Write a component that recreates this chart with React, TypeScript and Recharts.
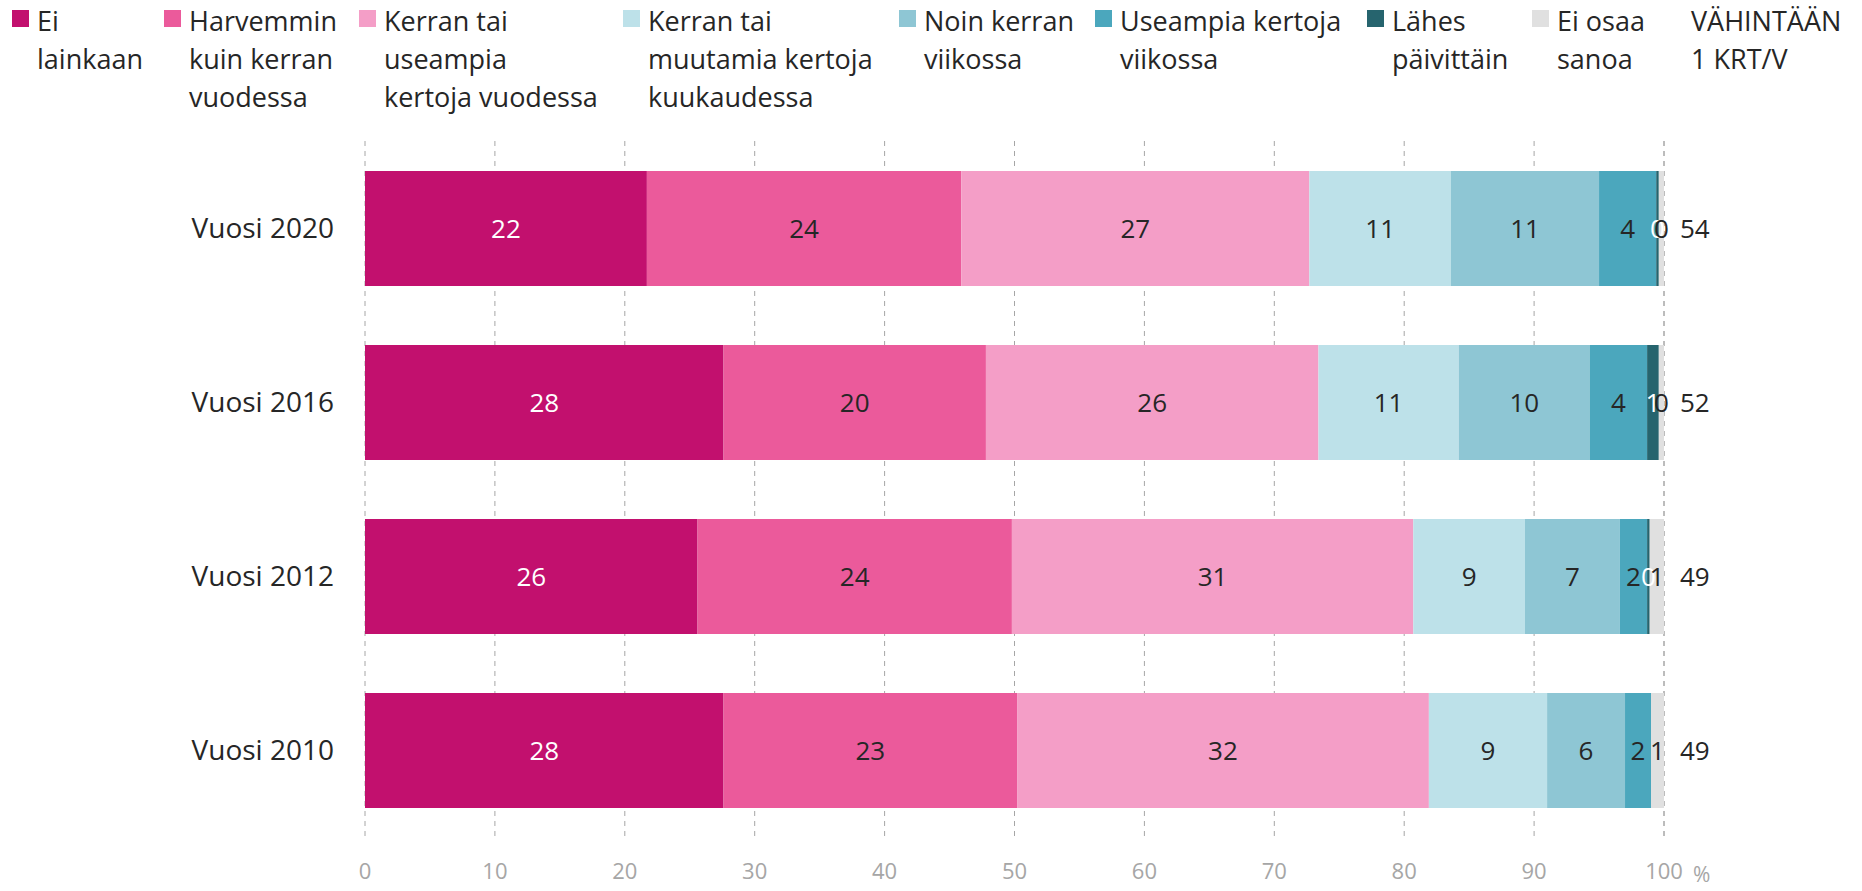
import { Bar, BarChart, CartesianGrid, LabelList, XAxis, YAxis } from "recharts";

const YEARS = ["Vuosi 2020", "Vuosi 2016", "Vuosi 2012", "Vuosi 2010"];

const EI_LAINKAAN = [21.7, 27.6, 25.6, 27.6];
const HARVEMMIN = [24.2, 20.2, 24.2, 22.6];
const VUODESSA = [26.8, 25.6, 30.9, 31.7];
const KUUKAUDESSA = [10.9, 10.8, 8.6, 9.1];
const VIIKOSSA = [11.4, 10.1, 7.3, 6.0];
const USEAMPIA = [4.4, 4.4, 2.1, 2.0];
const LAHES = [0.2, 0.9, 0.2, null];
const EI_OSAA = [0.4, 0.4, 1.1, 1.0];
const VAHINTAAN = [54, 52, 49, 49];

const X_TICKS = [0, 10, 20, 30, 40, 50, 60, 70, 80, 90, 100];

const SERIES = [
  { key: "eiLainkaan", name: "Ei\nlainkaan", values: EI_LAINKAAN, color: "#C2106E", label: "#ffffff" },
  { key: "harvemmin", name: "Harvemmin\nkuin kerran\nvuodessa", values: HARVEMMIN, color: "#EB5A9B", label: "#262626" },
  { key: "vuodessa", name: "Kerran tai\nuseampia\nkertoja vuodessa", values: VUODESSA, color: "#F49EC7", label: "#262626" },
  { key: "kuukaudessa", name: "Kerran tai\nmuutamia kertoja\nkuukaudessa", values: KUUKAUDESSA, color: "#BDE1E9", label: "#262626" },
  { key: "viikossa", name: "Noin kerran\nviikossa", values: VIIKOSSA, color: "#8EC6D4", label: "#262626" },
  { key: "useampia", name: "Useampia kertoja\nviikossa", values: USEAMPIA, color: "#4BA7BD", label: "#262626" },
  { key: "lahes", name: "Lähes\npäivittäin", values: LAHES, color: "#26646E", label: "#ffffff" },
  { key: "eiOsaa", name: "Ei osaa\nsanoa", values: EI_OSAA, color: "#E0E0E0", label: "#262626" },
];

// legend swatch left edges, px
const LEGEND_X = [12, 164, 359, 623, 899, 1095, 1367, 1532];

const data = YEARS.map((year, i) => {
  const row: Record<string, string | number | null> = { year, total: VAHINTAAN[i] };
  SERIES.forEach((s) => {
    row[s.key] = s.values[i];
  });
  return row;
});

const fmt = (v: unknown) => (v == null ? "" : Math.round(Number(v)));

const TEXT = "#262626";
const GREY = "#A6A6A6";

export default function App() {
  return (
    <div
      style={{
        position: "absolute",
        left: 0,
        top: 0,
        width: 1862,
        height: 891,
        background: "#fff",
        fontFamily: "'Open Sans', sans-serif",
        color: TEXT,
      }}
    >
      {SERIES.map((s, i) => (
        <div key={s.key} style={{ position: "absolute", left: LEGEND_X[i], top: 2 }}>
          <span
            style={{ position: "absolute", left: 0, top: 8, width: 17, height: 17, background: s.color }}
          />
          <div
            style={{
              marginLeft: 25,
              fontSize: 27,
              lineHeight: "38px",
              whiteSpace: "pre",
            }}
          >
            {s.name}
          </div>
        </div>
      ))}
      <div
        style={{ position: "absolute", left: 1691, top: 2, fontSize: 27, lineHeight: "38px", whiteSpace: "pre" }}
      >
        {"VÄHINTÄÄN\n1 KRT/V"}
      </div>

      <div style={{ position: "absolute", left: 0, top: 0 }}>
        <BarChart
          width={1862}
          height={891}
          data={data}
          layout="vertical"
          margin={{ top: 141, right: 198, bottom: 0, left: 0 }}
        >
          <CartesianGrid horizontal={false} stroke={GREY} strokeDasharray="5 5" />
          <XAxis
            type="number"
            domain={[0, 100]}
            ticks={X_TICKS}
            axisLine={false}
            tickLine={false}
            tickSize={0}
            tickMargin={26}
            height={54}
            tick={{ fill: GREY, fontSize: 22 }}
            interval={0}
          />
          <YAxis
            type="category"
            dataKey="year"
            width={365}
            axisLine={false}
            tickLine={false}
            tickSize={0}
            tickMargin={31}
            tick={{ fill: TEXT, fontSize: 28 }}
          />
          {SERIES.map((s, i) => (
            <Bar key={s.key} dataKey={s.key} stackId="a" fill={s.color} barSize={115} isAnimationActive={false}>
              <LabelList
                dataKey={s.key}
                position="center"
                formatter={fmt}
                fill={s.label}
                style={{ fontSize: 26 }}
              />
              {i === SERIES.length - 1 && (
                <LabelList dataKey="total" position="right" offset={16} fill={TEXT} style={{ fontSize: 26 }} />
              )}
            </Bar>
          ))}
        </BarChart>
      </div>
      <div style={{ position: "absolute", left: 1693, top: 860, fontSize: 21, color: GREY }}>%</div>
    </div>
  );
}
